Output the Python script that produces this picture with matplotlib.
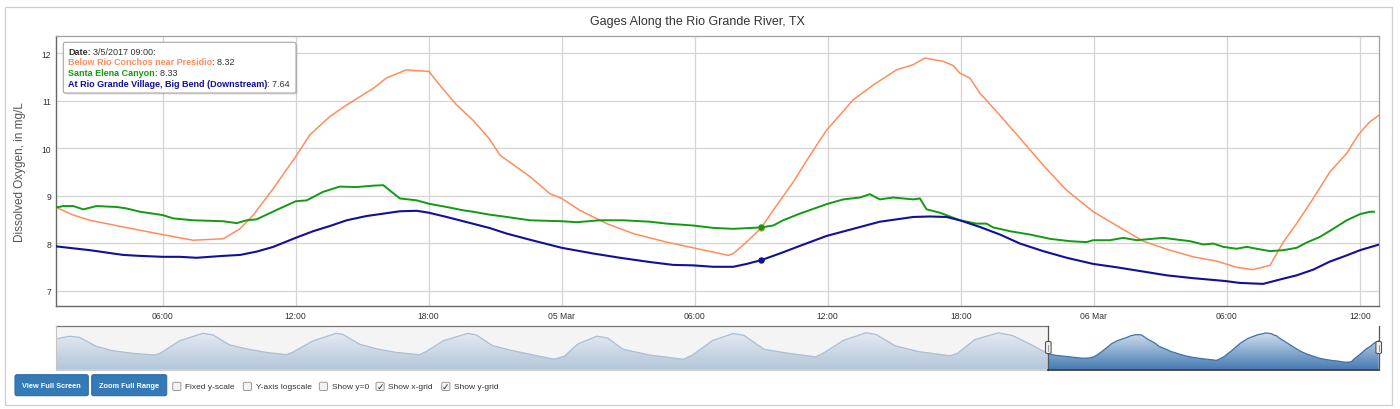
import numpy as np
import pandas as pd
import matplotlib
matplotlib.use('Agg')
import matplotlib.pyplot as plt
import matplotlib.dates as mdates
from matplotlib.patches import Rectangle, FancyBboxPatch
from matplotlib.ticker import MultipleLocator, FuncFormatter
from matplotlib.colors import LinearSegmentedColormap

plt.rcParams['font.family'] = ['Liberation Sans', 'DejaVu Sans']

# hours counted from 2017-03-04 00:00
START = pd.Timestamp('2017-03-04 00:00')

title = 'Gages Along the Rio Grande River, TX'
ylabel = 'Dissolved Oxygen, in mg/L'
names = ['Below Rio Conchos near Presidio', 'Santa Elena Canyon',
         'At Rio Grande Village, Big Bend (Downstream)']

conchos_h = [1.2, 1.97, 2.72, 4.22, 4.98, 6.0, 6.78, 7.38, 8.73, 9.49, 10.09, 10.99,
             12.0, 12.64, 13.55, 14.3, 15.5, 16.1, 17.0, 17.5, 18.0, 18.5, 19.26, 20.0,
             20.73, 21.22, 22.57, 23.47, 24.0, 24.82, 26.03, 27.23, 28.73, 29.93, 30.83,
             31.51, 31.74, 32.34, 33.0, 33.54, 34.45, 35.2, 35.95, 37.15, 38.05, 39.1,
             39.86, 40.38, 40.61, 41.21, 41.66, 41.96, 42.41, 42.86, 43.62, 44.67, 45.72,
             46.78, 47.98, 49.03, 50.23, 51.29, 52.49, 53.54, 54.44, 55.17, 55.95, 56.55,
             57.15, 57.9, 58.65, 59.41, 59.93, 60.46, 60.88]
conchos_v = [8.75, 8.59, 8.48, 8.34, 8.27, 8.18, 8.11, 8.06, 8.09, 8.30, 8.59, 9.15,
             9.82, 10.28, 10.67, 10.91, 11.26, 11.48, 11.65, 11.63, 11.62, 11.33, 10.91, 10.59,
             10.20, 9.85, 9.40, 9.04, 8.94, 8.69, 8.41, 8.20, 8.02, 7.90, 7.81,
             7.74, 7.78, 8.02, 8.32, 8.69, 9.29, 9.85, 10.38, 11.02, 11.33, 11.65,
             11.76, 11.90, 11.88, 11.83, 11.74, 11.58, 11.48, 11.16, 10.77, 10.21, 9.64,
             9.11, 8.66, 8.37, 8.04, 7.87, 7.71, 7.62, 7.49, 7.44, 7.53, 8.02,
             8.41, 8.94, 9.50, 9.89, 10.28, 10.56, 10.70]

elena_h = [1.2, 1.52, 1.97, 2.42, 3.02, 3.93, 4.37, 4.98, 6.0, 6.48, 7.38, 8.73, 9.34,
           9.79, 10.24, 11.29, 12.0, 12.5, 13.24, 13.99, 14.75, 15.5, 15.95, 16.7, 17.46,
           18.0, 18.81, 19.56, 20.01, 20.73, 21.22, 22.57, 24.0, 24.68, 25.73, 26.78,
           27.98, 28.73, 29.93, 30.83, 31.74, 33.0, 33.54, 33.99, 34.74, 35.95, 36.7,
           37.45, 37.9, 38.35, 38.95, 39.86, 40.16, 40.46, 41.06, 41.96, 42.71, 43.16,
           43.46, 44.22, 45.12, 46.02, 46.92, 47.67, 47.98, 48.73, 49.33, 49.93, 51.13,
           52.34, 52.94, 53.39, 53.84, 54.44, 54.9, 55.35, 55.95, 56.55, 57.15, 57.6,
           58.2, 58.8, 59.41, 60.01, 60.46, 60.64]
elena_v = [8.75, 8.78, 8.78, 8.71, 8.78, 8.76, 8.73, 8.66, 8.59, 8.52, 8.48, 8.46, 8.42,
           8.48, 8.50, 8.73, 8.88, 8.90, 9.08, 9.19, 9.18, 9.21, 9.22, 8.94, 8.90,
           8.83, 8.76, 8.69, 8.66, 8.60, 8.57, 8.48, 8.46, 8.44, 8.48, 8.48,
           8.45, 8.41, 8.37, 8.32, 8.30, 8.33, 8.37, 8.48, 8.62, 8.82, 8.92,
           8.96, 9.03, 8.92, 8.96, 8.92, 8.94, 8.71, 8.64, 8.48, 8.41, 8.41,
           8.33, 8.25, 8.18, 8.09, 8.04, 8.02, 8.06, 8.06, 8.11, 8.06, 8.11,
           8.04, 7.97, 7.99, 7.92, 7.88, 7.92, 7.88, 7.83, 7.85, 7.90, 8.01,
           8.13, 8.30, 8.48, 8.61, 8.66, 8.66]

village_h = [1.2, 2.72, 3.47, 4.22, 4.98, 6.0, 6.78, 7.53, 8.73, 9.49, 10.24, 10.99, 12.0,
             12.79, 13.55, 14.3, 15.2, 15.95, 16.7, 17.46, 18.0, 18.81, 19.56, 20.31, 20.73,
             21.52, 22.57, 24.0, 25.42, 26.63, 27.98, 29.03, 29.93, 30.83, 31.74, 32.34,
             33.0, 33.84, 34.74, 35.95, 37.15, 38.35, 39.41, 39.86, 40.61, 41.36, 41.96,
             42.86, 43.77, 44.67, 45.72, 46.78, 47.98, 49.03, 50.23, 51.29, 52.49, 53.93,
             54.59, 55.64, 56.55, 57.15, 57.9, 58.65, 59.41, 60.01, 60.88]
village_v = [7.93, 7.85, 7.80, 7.75, 7.73, 7.71, 7.71, 7.69, 7.73, 7.75, 7.82, 7.92, 8.11,
             8.25, 8.36, 8.48, 8.57, 8.62, 8.67, 8.68, 8.64, 8.55, 8.46, 8.37, 8.32,
             8.20, 8.07, 7.90, 7.78, 7.69, 7.60, 7.54, 7.53, 7.50, 7.50, 7.56,
             7.64, 7.78, 7.94, 8.15, 8.30, 8.45, 8.52, 8.55, 8.56, 8.55, 8.48,
             8.34, 8.18, 7.99, 7.83, 7.69, 7.56, 7.49, 7.40, 7.32, 7.26, 7.20,
             7.16, 7.14, 7.25, 7.32, 7.44, 7.61, 7.74, 7.85, 7.97]

# navigator: earlier days of the Presidio series (before the zoomed window)
nav_h = [-178.0, -175.6, -173.8, -170.8, -167.8, -164.1, -160.2, -159.3, -155.7, -151.5,
         -149.6, -146.7, -143.7, -140.1, -136.4, -135.3, -131.6, -127.4, -126.2, -123.2,
         -120.2, -116.6, -112.4, -111.2, -108.1, -103.6, -102.1, -99.1, -95.5, -88.0,
         -86.2, -83.7, -80.3, -78.4, -75.6, -70.6, -64.7, -63.1, -59.4, -55.7,
         -53.8, -50.1, -45.7, -40.8, -39.5, -35.8, -31.7, -29.9, -26.4, -22.1,
         -16.5, -15.2, -12.1, -7.8, -5.3, -2.2]
nav_v = [11.0, 11.4, 11.25, 9.9, 9.2, 8.8, 8.55, 8.75, 10.7, 11.85,
         11.6, 10.1, 9.5, 8.95, 8.6, 8.95, 10.7, 11.85, 11.7, 10.2,
         9.5, 8.95, 8.6, 9.05, 10.7, 11.85, 11.6, 9.95, 9.2, 7.90,
         8.37, 10.26, 11.41, 11.15, 9.42, 8.52, 7.90, 8.52, 10.77, 11.82,
         11.56, 9.42, 8.80, 8.26, 8.80, 10.77, 11.93, 11.67, 9.94, 9.05,
         8.43, 8.80, 10.88, 11.93, 11.52, 10.26]

hover_h = 33.0
hover_label = '3/5/2017 09:00:'
hover_vals = ['8.32', '8.33', '7.64']

checkboxes = ['Fixed y-scale', 'Y-axis logscale', 'Show y=0', 'Show x-grid', 'Show y-grid']
checked = [False, False, False, True, True]
buttons = ['View Full Screen', 'Zoom Full Range']

ORANGE = '#ff8d5c'
GREEN = '#129a12'
BLUE = '#10109c'
colors = [ORANGE, GREEN, BLUE]


def to_time(hours):
    return START + pd.to_timedelta(np.asarray(hours, dtype=float), unit='h')


W, H = 1400, 410
fig = plt.figure(figsize=(14, 4.1), dpi=100)


def box(x0, y0, x1, y1):
    return [x0 / W, 1 - y1 / H, (x1 - x0) / W, (y1 - y0) / H]


# ---- main chart
ax = fig.add_axes(box(56, 36.7, 1379.3, 306.7))
series = [(conchos_h, conchos_v, 1.1), (elena_h, elena_v, 1.4), (village_h, village_v, 1.5)]
for (hh, vv, lw), c in zip(series, colors):
    ax.plot(to_time(hh), vv, color=c, lw=lw, zorder=3)
for (hh, vv, lw), c in zip(series, colors):
    ax.plot(to_time([hover_h]), np.interp([hover_h], hh, vv), 'o', ms=3.6, color=c, zorder=4)

ax.set_xlim(to_time([1.19])[0], to_time([60.88])[0])
ax.set_ylim(6.68, 12.37)
ax.yaxis.set_major_locator(MultipleLocator(1))
ax.xaxis.set_major_locator(mdates.HourLocator(byhour=[0, 6, 12, 18]))


def fmt_time(x, pos):
    d = mdates.num2date(x)
    return d.strftime('%d %b') if d.hour == 0 else d.strftime('%H:%M')


ax.xaxis.set_major_formatter(FuncFormatter(fmt_time))
ax.grid(color='#d4d4d4', lw=0.9)
ax.set_axisbelow(True)
ax.tick_params(length=0, labelsize=6.2, colors='#333', pad=3.5)
for side in ['top', 'right']:
    ax.spines[side].set_color('#a0a0a0')
    ax.spines[side].set_linewidth(0.9)
for side in ['left', 'bottom']:
    ax.spines[side].set_color('#666')
    ax.spines[side].set_linewidth(1.0)

# ---- navigator
nav = fig.add_axes(box(56, 326.7, 1378.7, 370.7))
NAV_Y0, NAV_Y1 = 6.31, 13.01


def gradient_area(hours, vals, c_top, c_bot, line_c):
    t = to_time(hours)
    poly = nav.fill_between(t, vals, NAV_Y0, color='none', lw=0)
    cmap = LinearSegmentedColormap.from_list('g', [c_bot, c_top])
    grad = np.linspace(0, 1, 256).reshape(-1, 1)
    x0, x1 = mdates.date2num(t[0]), mdates.date2num(t[-1])
    im = nav.imshow(grad, aspect='auto', cmap=cmap, origin='lower',
                    extent=[x0, x1, NAV_Y0, 12.2], zorder=1)
    im.set_clip_path(poly.get_paths()[0], transform=nav.transData)
    nav.plot(t, vals, color=line_c, lw=0.9, zorder=2)


unsel_h = nav_h + [conchos_h[0]]
unsel_v = nav_v + [conchos_v[0]]
nav.add_patch(Rectangle((mdates.date2num(to_time([nav_h[0]])[0]), NAV_Y0),
                        mdates.date2num(to_time([conchos_h[0]])[0]) - mdates.date2num(to_time([nav_h[0]])[0]),
                        NAV_Y1 - NAV_Y0, color='#f4f4f4', zorder=0))
gradient_area(unsel_h, unsel_v, '#e6ecf3', '#b2c5d9', '#a9bfd5')
gradient_area(conchos_h, conchos_v, '#d6e3f1', '#4479b0', '#3f71a8')
nav.set_xlim(to_time([nav_h[0]])[0], to_time([conchos_h[-1]])[0])
nav.set_ylim(NAV_Y0, NAV_Y1)
nav.axis('off')

# ---- overlay in pixel coordinates
ov = fig.add_axes([0, 0, 1, 1], zorder=10)
ov.set_xlim(0, W)
ov.set_ylim(H, 0)
ov.axis('off')
ov.patch.set_alpha(0)

ov.add_patch(Rectangle((5, 8), 1387, 398, fill=False, ec='#cfcfcf', lw=0.9))
ov.text(697, 22.3, title, ha='center', va='center', fontsize=9, color='#333')
ov.text(20, 172, ylabel, ha='center', va='center', rotation=90, fontsize=8.5, color='#555')

# navigator outline and handles
L, S, R, T, B = 56, 1048.3, 1378.7, 326.7, 370.7
ov.plot([L, S], [T, T], color='#777', lw=0.9)
ov.plot([L, L], [T, B], color='#c4c4c4', lw=0.8)
ov.plot([L, S], [B, B], color='#cccccc', lw=0.8)
ov.plot([S, S], [T, B], color='#555', lw=0.9)
ov.plot([S, R], [B, B], color='#333', lw=1.2)
ov.plot([R, R], [T, B], color='#555', lw=0.9)
for hx in [S, R]:
    ov.add_patch(FancyBboxPatch((hx - 2.8, 342.5), 5.6, 12, boxstyle='round,pad=0,rounding_size=1.5',
                                fc='#f0f0f0', ec='#555', lw=0.8, zorder=12))
    ov.plot([hx, hx], [345.5, 351.5], color='#888', lw=0.6, zorder=13)

# tooltip
ov.add_patch(FancyBboxPatch((64.8, 44.8), 232.7, 50.7, boxstyle='round,pad=0,rounding_size=2',
                            fc='#000', ec='none', alpha=0.12, zorder=19))
ov.add_patch(FancyBboxPatch((63.3, 43.3), 232.7, 50.7, boxstyle='round,pad=0,rounding_size=2',
                            fc='white', ec='#a8a8a8', lw=0.8, zorder=20))
renderer = fig.canvas.get_renderer()


def rich_line(x, y, parts):
    for s, color, weight, gap in parts:
        x += gap
        t = ov.text(x, y, s, color=color, fontsize=6.5, fontweight=weight,
                    ha='left', va='center', zorder=21)
        x += t.get_window_extent(renderer=renderer).width


rich_line(68, 52.3, [('Date:', '#333', 'bold', 0), (hover_label, '#333', 'normal', 2.5)])
for i, (n, c, v) in enumerate(zip(names, colors, hover_vals)):
    rich_line(68, 62.9 + 10.6 * i, [(n, c, 'bold', 0), (': ' + v, '#333', 'normal', 0)])

# buttons
for (x0, x1), label in zip([(15, 88.3), (91.7, 166.7)], buttons):
    ov.add_patch(FancyBboxPatch((x0, 375.7), x1 - x0, 21, boxstyle='round,pad=0,rounding_size=2',
                                fc='#337ab7', ec='#2e6da4', lw=0.8))
    ov.text((x0 + x1) / 2, 386.2, label, ha='center', va='center', color='white',
            fontsize=5.3, fontweight='bold')

# checkboxes
for bx, label, on in zip([172.7, 243.3, 319.3, 376, 441.7], checkboxes, checked):
    ov.add_patch(FancyBboxPatch((bx, 383.3), 8.2, 8.2, boxstyle='round,pad=0,rounding_size=1.5',
                                fc='#f3f3f3', ec='#9a9a9a', lw=0.7))
    if on:
        ov.text(bx + 4.1, 387.6, '\u2713', ha='center', va='center', fontsize=6.5,
                color='#222', family='DejaVu Sans', fontweight='bold')
    ov.text(bx + 12.5, 387.3, label, ha='left', va='center', fontsize=6, color='#333')

fig.savefig('out.png', dpi=100)
